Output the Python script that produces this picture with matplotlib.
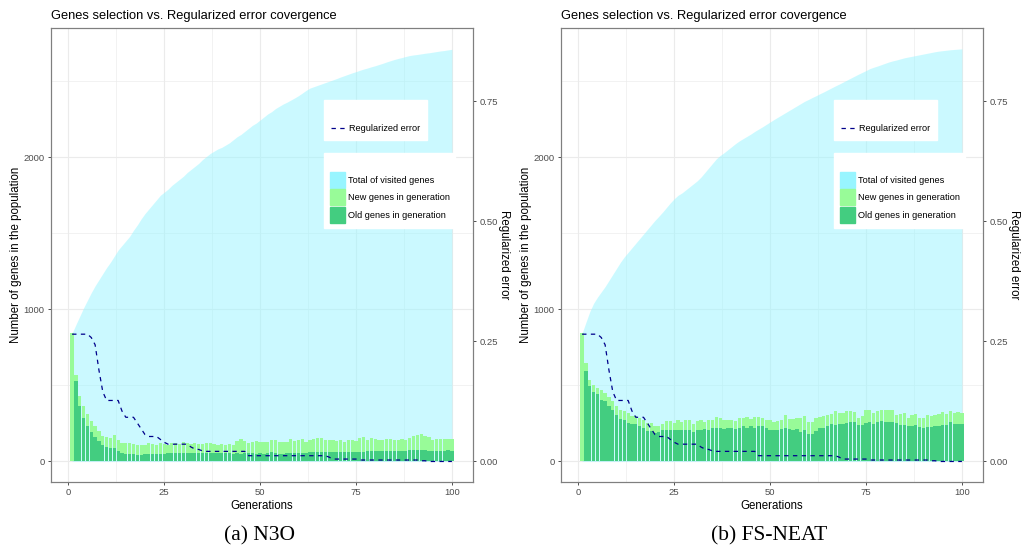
import matplotlib.pyplot as plt
from matplotlib.patches import Patch
from matplotlib.lines import Line2D

plt.rcParams['font.family'] = ['Liberation Sans', 'DejaVu Sans']

generations = list(range(1, 101))

# N3O: total of visited genes (area), genes in generation (bar top), old genes
n3o_total = [843, 900, 955, 1010, 1060, 1110, 1155, 1195, 1235, 1275,
             1310, 1350, 1390, 1420, 1450, 1480, 1520, 1555, 1595, 1630,
             1660, 1690, 1720, 1750, 1770, 1790, 1815, 1835, 1855, 1875,
             1900, 1920, 1940, 1960, 1985, 2005, 2025, 2040, 2055, 2065,
             2080, 2095, 2115, 2135, 2150, 2170, 2190, 2210, 2225, 2245,
             2265, 2285, 2300, 2320, 2335, 2350, 2362, 2376, 2390, 2405,
             2422, 2440, 2455, 2464, 2473, 2482, 2491, 2500, 2509, 2518,
             2528, 2537, 2546, 2555, 2563, 2572, 2580, 2587, 2595, 2602,
             2610, 2618, 2627, 2635, 2643, 2650, 2656, 2663, 2669, 2673,
             2676, 2680, 2684, 2687, 2691, 2695, 2699, 2702, 2706, 2710]
n3o_pop = [843, 570, 432, 366, 314, 268, 235, 202, 169, 164,
           154, 175, 143, 121, 121, 121, 116, 107, 107, 110,
           121, 116, 110, 121, 114, 110, 121, 121, 116, 125,
           121, 116, 121, 116, 114, 121, 121, 116, 110, 116,
           110, 114, 110, 132, 147, 132, 121, 125, 132, 129,
           125, 125, 143, 143, 125, 129, 125, 147, 134, 143,
           147, 129, 138, 147, 154, 156, 143, 143, 138, 134,
           138, 129, 143, 143, 136, 154, 158, 143, 154, 151,
           143, 138, 147, 149, 138, 143, 151, 138, 156, 169,
           171, 178, 165, 160, 143, 151, 147, 151, 151, 147]
n3o_old = [0, 526, 362, 289, 230, 191, 158, 132, 107, 92,
           88, 88, 66, 55, 50, 50, 48, 42, 42, 46,
           50, 50, 50, 50, 50, 53, 53, 55, 55, 55,
           55, 57, 55, 57, 55, 57, 57, 55, 53, 53,
           53, 53, 48, 53, 48, 55, 53, 55, 50, 55,
           50, 55, 61, 55, 48, 48, 53, 55, 53, 55,
           57, 55, 59, 59, 61, 59, 64, 59, 59, 59,
           61, 61, 64, 64, 61, 64, 64, 68, 72, 72,
           70, 68, 70, 70, 72, 70, 72, 72, 75, 75,
           77, 77, 75, 72, 66, 70, 70, 72, 77, 72]

# FS-NEAT
fs_total = [843, 915, 985, 1040, 1080, 1115, 1150, 1190, 1230, 1270,
            1310, 1345, 1375, 1405, 1435, 1465, 1495, 1525, 1555, 1585,
            1612, 1640, 1670, 1700, 1727, 1750, 1765, 1785, 1805, 1825,
            1845, 1870, 1900, 1930, 1960, 1990, 2012, 2030, 2050, 2070,
            2090, 2108, 2123, 2138, 2153, 2170, 2185, 2200, 2216, 2232,
            2248, 2263, 2278, 2293, 2308, 2323, 2338, 2353, 2368, 2380,
            2393, 2405, 2418, 2430, 2443, 2456, 2469, 2481, 2494, 2507,
            2520, 2533, 2546, 2558, 2570, 2583, 2592, 2600, 2609, 2618,
            2627, 2634, 2640, 2647, 2654, 2659, 2664, 2669, 2674, 2679,
            2684, 2689, 2694, 2698, 2701, 2704, 2707, 2709, 2711, 2713]
fs_pop = [843, 647, 537, 504, 482, 467, 450, 423, 395, 362,
          336, 329, 318, 300, 296, 285, 274, 252, 252, 235,
          230, 248, 263, 263, 252, 270, 257, 270, 270, 248,
          263, 270, 261, 274, 274, 292, 285, 270, 274, 274,
          263, 285, 285, 292, 279, 292, 292, 285, 270, 270,
          259, 263, 274, 307, 281, 281, 285, 285, 300, 259,
          259, 289, 292, 296, 307, 311, 329, 318, 318, 333,
          333, 322, 285, 296, 336, 336, 318, 333, 336, 336,
          336, 336, 307, 311, 318, 289, 307, 314, 285, 285,
          307, 300, 307, 311, 322, 314, 329, 318, 325, 318]
fs_old = [0, 592, 493, 454, 443, 406, 395, 362, 336, 307,
          278, 274, 252, 248, 248, 235, 219, 202, 202, 186,
          191, 204, 204, 208, 208, 204, 204, 208, 208, 197,
          208, 208, 213, 204, 217, 219, 219, 213, 217, 219,
          213, 219, 230, 219, 230, 219, 235, 230, 219, 208,
          208, 208, 213, 219, 215, 204, 213, 197, 208, 180,
          180, 202, 219, 219, 235, 248, 241, 248, 248, 252,
          257, 259, 237, 241, 252, 259, 248, 257, 265, 261,
          261, 259, 252, 241, 241, 230, 235, 241, 226, 219,
          226, 226, 230, 230, 241, 241, 257, 248, 248, 248]

# regularized error (same run in both panels)
reg_error = [0.265, 0.265, 0.265, 0.265, 0.265, 0.258, 0.243, 0.19, 0.145, 0.127,
             0.127, 0.127, 0.127, 0.105, 0.092, 0.092, 0.092, 0.08, 0.068, 0.056,
             0.052, 0.052, 0.052, 0.046, 0.04, 0.036, 0.036, 0.036, 0.036, 0.036,
             0.036, 0.03, 0.026, 0.025, 0.022, 0.021, 0.021, 0.021, 0.021, 0.021,
             0.021, 0.021, 0.021, 0.021, 0.021, 0.021, 0.012, 0.012, 0.012, 0.012,
             0.012, 0.012, 0.012, 0.012, 0.012, 0.012, 0.012, 0.012, 0.012, 0.012,
             0.012, 0.012, 0.012, 0.012, 0.012, 0.012, 0.012, 0.009, 0.005, 0.005,
             0.005, 0.005, 0.005, 0.005, 0.005, 0.003, 0.003, 0.003, 0.003, 0.003,
             0.003, 0.003, 0.003, 0.003, 0.003, 0.003, 0.003, 0.003, 0.003, 0.003,
             0.003, 0.0015, 0.0015, 0.0, 0.0, 0.0, 0.0, 0.0, 0.0, 0.0]

AREA = '#98F5FF'
NEW = '#98FB98'
OLD = '#43CD80'
ERR = '#00008B'
GRID = '#EBEBEB'
SCALE = 3158  # genes per unit of error on the second axis
YLIM = (-135, 2850)


def panel(rect, total, pop, old, caption, cap_x):
    ax = fig.add_axes(rect)
    ax.fill_between(generations, 0, total, color=AREA, alpha=0.5, lw=0)
    ax.bar(generations, pop, width=0.85, color=NEW, lw=0)
    ax.bar(generations, old, width=0.85, color=OLD, lw=0)
    ax.set_xlim(-4.5, 105.5)
    ax.set_ylim(*YLIM)
    ax.set_xticks([0, 25, 50, 75, 100])
    ax.set_xticks([12.5, 37.5, 62.5, 87.5], minor=True)
    ax.set_yticks([0, 1000, 2000])
    ax.set_yticks([500, 1500, 2500], minor=True)
    ax.set_axisbelow(True)
    ax.grid(which='major', color=GRID, lw=0.8)
    ax.grid(which='minor', color=GRID, lw=0.45)
    ax.tick_params(which='major', length=2.5, width=0.6, color='#333333',
                   labelcolor='#4D4D4D', labelsize=6.8, pad=2)
    ax.tick_params(which='minor', length=0)
    ax.set_xlabel('Generations', fontsize=8.3, labelpad=2)
    ax.set_ylabel('Number of genes in the population', fontsize=8.3, labelpad=1)
    ax.set_title('Genes selection vs. Regularized error covergence',
                 loc='left', fontsize=9.3, pad=6.5)

    ax2 = ax.twinx()
    ax2.plot(generations, reg_error, color=ERR, lw=0.9, ls=(0, (3.5, 3.5)))
    ax2.set_ylim(YLIM[0] / SCALE, YLIM[1] / SCALE)
    ax2.set_yticks([0, 0.25, 0.5, 0.75])
    ax2.set_yticklabels(['0.00', '0.25', '0.50', '0.75'])
    ax2.tick_params(length=2.5, width=0.6, color='#333333',
                    labelcolor='#4D4D4D', labelsize=6.8, pad=2)
    ax2.set_ylabel('Regularized error', fontsize=8.3, rotation=270, labelpad=9)
    for a in (ax, ax2):
        for s in a.spines.values():
            s.set_color('#7F7F7F')
            s.set_linewidth(0.8)

    leg1 = ax2.legend(handles=[Line2D([], [], color=ERR, lw=0.9, ls=(0, (3.5, 3.5)))],
                      labels=['Regularized error'], loc='upper left',
                      bbox_to_anchor=(0.647, 0.841), borderaxespad=0,
                      title=' ', title_fontsize=9, fontsize=6.6,
                      handlelength=1.5, handletextpad=0.4, borderpad=0.8,
                      frameon=True, fancybox=False, edgecolor='white',
                      framealpha=1)
    ax2.add_artist(leg1)
    ax2.legend(handles=[Patch(color=AREA), Patch(color=NEW), Patch(color=OLD)],
               labels=['Total of visited genes', 'New genes in generation',
                       'Old genes in generation'],
               loc='upper left', bbox_to_anchor=(0.647, 0.7247), borderaxespad=0,
               title=' ', title_fontsize=8.5, fontsize=6.6,
               handlelength=1.7, handleheight=2.3, handletextpad=0.3,
               labelspacing=0.16, borderpad=0.6,
               frameon=True, fancybox=False, edgecolor='white', framealpha=1)

    fig.text(cap_x, 1 - 536 / 551, caption, family='Liberation Serif',
             fontsize=15.5, ha='center', va='center')


fig = plt.figure(figsize=(10.22, 5.51), dpi=100)
panel([51 / 1022, 69 / 551, 422 / 1022, 454 / 551],
      n3o_total, n3o_pop, n3o_old, '(a) N3O', 260 / 1022)
panel([561 / 1022, 69 / 551, 422 / 1022, 454 / 551],
      fs_total, fs_pop, fs_old, '(b) FS-NEAT', 769 / 1022)

fig.savefig('out.png', dpi=100)
